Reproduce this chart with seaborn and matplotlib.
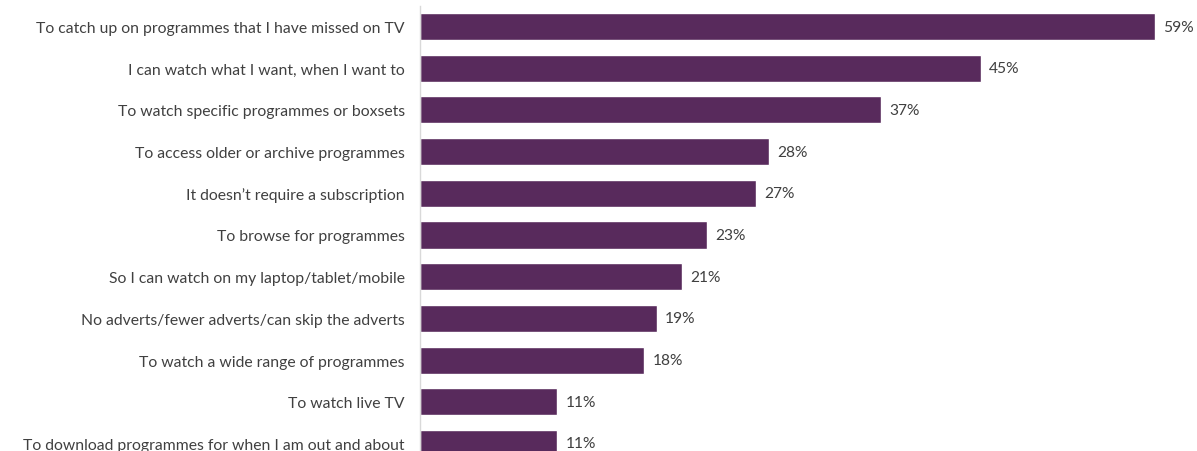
import matplotlib
matplotlib.use("Agg")
import matplotlib.pyplot as plt
import seaborn as sns
import pandas as pd

reasons = [
    "To catch up on programmes that I have missed on TV",
    "I can watch what I want, when I want to",
    "To watch specific programmes or boxsets",
    "To access older or archive programmes",
    "It doesn\u2019t require a subscription",
    "To browse for programmes",
    "So I can watch on my laptop/tablet/mobile",
    "No adverts/fewer adverts/can skip the adverts",
    "To watch a wide range of programmes",
    "To watch live TV",
    "To download programmes for when I am out and about",
]
percent = [59, 45, 37, 28, 27, 23, 21, 19, 18, 11, 11]

df = pd.DataFrame({"reason": reasons, "percent": percent})

sns.set_style("white")
plt.rcParams["font.family"] = ["Lato", "DejaVu Sans"]

W, H = 1197, 452
fig = plt.figure(figsize=(W / 100, H / 100), dpi=100)
px_per_pct = 12.46
step = 41.7
top_px = 27.5 - step / 2
bottom_px = 27.5 + step * 10.5
ax = fig.add_axes([420 / W, (H - bottom_px) / H, 62 * px_per_pct / W, (bottom_px - top_px) / H])

sns.barplot(data=df, x="percent", y="reason", color="#582A5C", saturation=1,
            width=0.65, ax=ax)
ax.set_xlim(0, 62)
ax.set_ylim(10.5, -0.5)

for c in ax.containers:
    ax.bar_label(c, labels=[f"{v}%" for v in percent], padding=6,
                 fontsize=11.2, color="#404040")

ax.set_xlabel("")
ax.set_ylabel("")
ax.set_xticks([])
ax.tick_params(axis="y", length=0, pad=11, labelsize=11.3, labelcolor="#404040")
for s in ["top", "right", "bottom"]:
    ax.spines[s].set_visible(False)
ax.spines["left"].set_color("#D9D9D9")
ax.spines["left"].set_linewidth(1)

fig.savefig("out.png", dpi=100)
